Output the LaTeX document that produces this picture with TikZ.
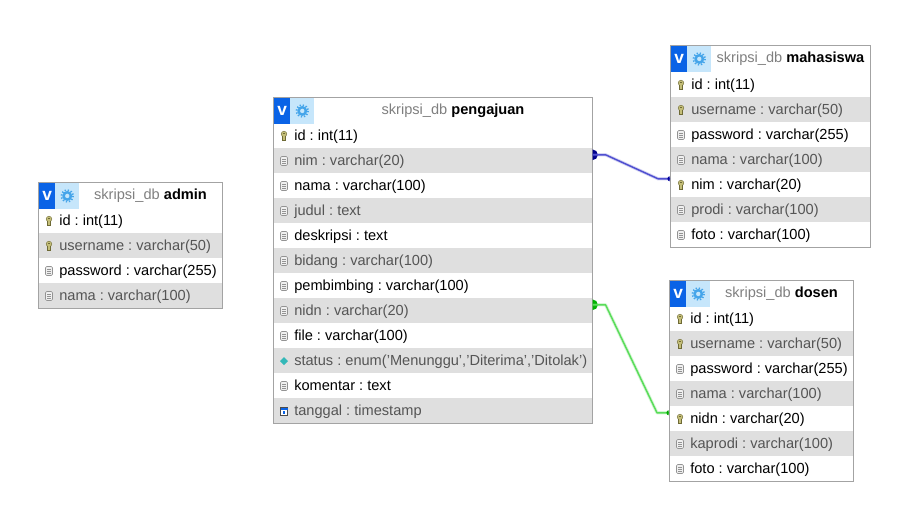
\documentclass[tikz,border=0pt]{standalone}
\usepackage{fontspec}
\setmainfont{Liberation Sans}
\definecolor{rowgrey}{HTML}{DFDFDF}
\definecolor{rowtext}{HTML}{555555}
\definecolor{framegrey}{HTML}{A3A3A3}
\definecolor{vblue}{HTML}{0A63E6}
\definecolor{gearbg}{HTML}{C6E6FB}
\definecolor{gearblue}{HTML}{45A5EA}
\definecolor{keycol}{HTML}{C4BE78}
\definecolor{keydark}{HTML}{6E6A35}
\definecolor{linkblue}{HTML}{5050D0}
\definecolor{linkgreen}{HTML}{5ADC5A}
\tikzset{
  rowbox/.style={rectangle,minimum height=18.75pt,inner sep=0pt,anchor=north west},
  rowlabel/.style={anchor=base west,inner sep=0pt,font=\frenchspacing\fontsize{10.95pt}{12pt}\selectfont},
  headlabel/.style={anchor=center,inner sep=0pt,font=\frenchspacing\fontsize{10.95pt}{12pt}\selectfont,text height=8pt,text depth=2pt},
  tableframe/.style={rectangle,draw=framegrey,line width=.8pt,inner sep=0pt,anchor=north west},
  vbox/.style={rectangle,fill=vblue,text=white,inner sep=0pt,anchor=north west,minimum width=12pt,minimum height=19pt,font=\bfseries\fontsize{13pt}{14pt}\selectfont},
  gearbox/.style={rectangle,fill=gearbg,inner sep=0pt,anchor=north west,minimum width=18pt,minimum height=19pt},
  linkline/.style={line width=1.1pt,line join=round},
  linkhalo/.style={line width=2.4pt,line join=round,opacity=.25},
  linkdot/.style={circle,inner sep=0pt,minimum size=#1}
}
\newcommand{\iconkey}[2]{%
  \fill[keycol,draw=keydark,line width=.3pt] (#1,#2-2) ellipse (2.8 and 2.8);
  \fill[keycol,draw=keydark,line width=.3pt] (#1-1.6,#2) rectangle (#1+1.6,#2+4.5);
  \fill[keycol] (#1-1.3,#2-1.5) rectangle (#1+1.3,#2+1);
  \fill[keydark] (#1-1,#2-3.4) rectangle (#1+1,#2-2.6);}
\newcommand{\iconcol}[2]{%
  \draw[gray!85,fill=gray!12,line width=.45pt,rounded corners=.9pt] (#1-3.5,#2-4.5) rectangle (#1+3.5,#2+4.5);
  \draw[gray!85,line width=.3pt] (#1-2,#2-2)--(#1+2,#2-2) (#1-2,#2)--(#1+2,#2) (#1-2,#2+2)--(#1+2,#2+2);}
\newcommand{\iconenum}[2]{%
  \fill[teal!70!cyan!80!white] (#1,#2-4)--(#1+4,#2)--(#1,#2+4)--(#1-4,#2)--cycle;}
\newcommand{\icontime}[2]{%
  \draw[black!70,fill=white,line width=.45pt] (#1-3.5,#2-3.5) rectangle (#1+3.5,#2+4);
  \fill[vblue] (#1-3.5,#2-3.5) rectangle (#1+3.5,#2-1.5);
  \fill[vblue] (#1-.7,#2-.5) rectangle (#1+.7,#2+3);}
\newcommand{\rowshift}{0}
% name, left, top, width, table name, rows (key/icon/label)
\newcommand{\dbtable}[6]{%
  \pgfmathsetmacro{\tw}{#4*.75}
  \foreach \k/\ic/\t [count=\n] in {#6}{%
    \pgfmathsetmacro{\ry}{#3+26+\rowshift+25*(\n-1)}
    \pgfmathsetmacro{\rx}{#2+21}
    \pgfmathsetmacro{\ix}{#2+11}
    \pgfmathsetmacro{\iy}{\ry+13}
    \pgfmathsetmacro{\by}{\ry+17.5}
    \ifodd\n
      \node[rowbox,minimum width=\tw pt] (#1-\k) at (#2,\ry) {};
      \node[rowlabel,text=black] (#1-\k-label) at (\rx,\by) {\t};
    \else
      \node[rowbox,minimum width=\tw pt,fill=rowgrey] (#1-\k) at (#2,\ry) {};
      \node[rowlabel,text=rowtext] (#1-\k-label) at (\rx,\by) {\t};
    \fi
    \csname icon\ic\endcsname{\ix}{\iy}
    \global\let\rowcount\n
  }
  \pgfmathsetmacro{\th}{(26+\rowshift+25*\rowcount)*.75}
  \node[tableframe,minimum width=\tw pt,minimum height=\th pt] (#1) at (#2,#3) {};
  \pgfmathsetmacro{\hx}{#2+1}
  \pgfmathsetmacro{\hy}{#3+1}
  \pgfmathsetmacro{\gx}{#2+17}
  \node[vbox] (#1-v) at (\hx,\hy) {v};
  \node[gearbox] (#1-gearbg) at (\gx,\hy) {};
  \fill[gearblue] (#1-gearbg.center) circle (5);
  \draw[gearblue,line width=1.3pt,dash pattern=on 1pt off 1.3pt] (#1-gearbg.center) circle (5.8);
  \fill[gearbg] (#1-gearbg.center) circle (2.2);
  \pgfmathsetmacro{\cx}{(#2+41+#2+#4)/2}
  \pgfmathsetmacro{\cy}{#3+13.5}
  \node[headlabel] (#1-head) at (\cx,\cy) {\textcolor{gray}{skripsi\_db} \textbf{#5}};
}
\begin{document}
\begin{tikzpicture}[x=.75pt,y=-.75pt]
\path[use as bounding box,fill=white] (0,0) rectangle (920,515);
\dbtable{admin}{38}{182}{184}{admin}{id/key/{id : int(11)},username/key/{username : varchar(50)},password/col/{password : varchar(255)},nama/col/{nama : varchar(100)}}
\dbtable{pengajuan}{273}{97}{319}{pengajuan}{id/key/{id : int(11)},nim/col/{nim : varchar(20)},nama/col/{nama : varchar(100)},judul/col/{judul : text},deskripsi/col/{deskripsi : text},bidang/col/{bidang : varchar(100)},pembimbing/col/{pembimbing : varchar(100)},nidn/col/{nidn : varchar(20)},file/col/{file : varchar(100)},status/enum/{status : enum('Menunggu','Diterima','Ditolak')},komentar/col/{komentar : text},tanggal/time/{tanggal : timestamp}}
\renewcommand{\rowshift}{1}
\dbtable{mahasiswa}{670}{45}{200}{mahasiswa}{id/key/{id : int(11)},username/key/{username : varchar(50)},password/col/{password : varchar(255)},nama/col/{nama : varchar(100)},nim/key/{nim : varchar(20)},prodi/col/{prodi : varchar(100)},foto/col/{foto : varchar(100)}}
\renewcommand{\rowshift}{0}
\dbtable{dosen}{669}{280}{184}{dosen}{id/key/{id : int(11)},username/key/{username : varchar(50)},password/col/{password : varchar(255)},nama/col/{nama : varchar(100)},nidn/key/{nidn : varchar(20)},kaprodi/col/{kaprodi : varchar(100)},foto/col/{foto : varchar(100)}}
% connectors
\coordinate (a1) at ([yshift=4.5pt]pengajuan-nim.east);
\coordinate (a2) at ([yshift=4.5pt]mahasiswa-nim.west);
\coordinate (b1) at ([yshift=4.5pt]pengajuan-nidn.east);
\coordinate (b2) at ([yshift=4.5pt]dosen-nidn.west);
\begin{scope}
\clip (592.5,0) rectangle (920,515);
\node[linkdot=8pt,fill=blue!55!black] (a1dot) at (a1) {};
\node[linkdot=8pt,fill=green!70!black] (b1dot) at (b1) {};
\end{scope}
\draw[linkhalo,draw=linkblue] (a1) -- ++(13,0) -- ([xshift=-9pt]a2) -- (a2);
\draw[linkhalo,draw=linkgreen] (b1) -- ++(13,0) -- ([xshift=-9pt]b2) -- (b2);
\draw[linkline,draw=linkblue] (a1) -- ++(13,0) -- ([xshift=-9pt]a2) -- (a2);
\draw[linkline,draw=linkgreen] (b1) -- ++(13,0) -- ([xshift=-9pt]b2) -- (b2);
\begin{scope}
\clip (600,0) rectangle (669.5,515);
\fill[blue!60!black] (a2) circle (2.6);
\end{scope}
\begin{scope}
\clip (600,0) rectangle (668.5,515);
\fill[green!65!black] (b2) circle (2.6);
\end{scope}
\end{tikzpicture}
\end{document}
